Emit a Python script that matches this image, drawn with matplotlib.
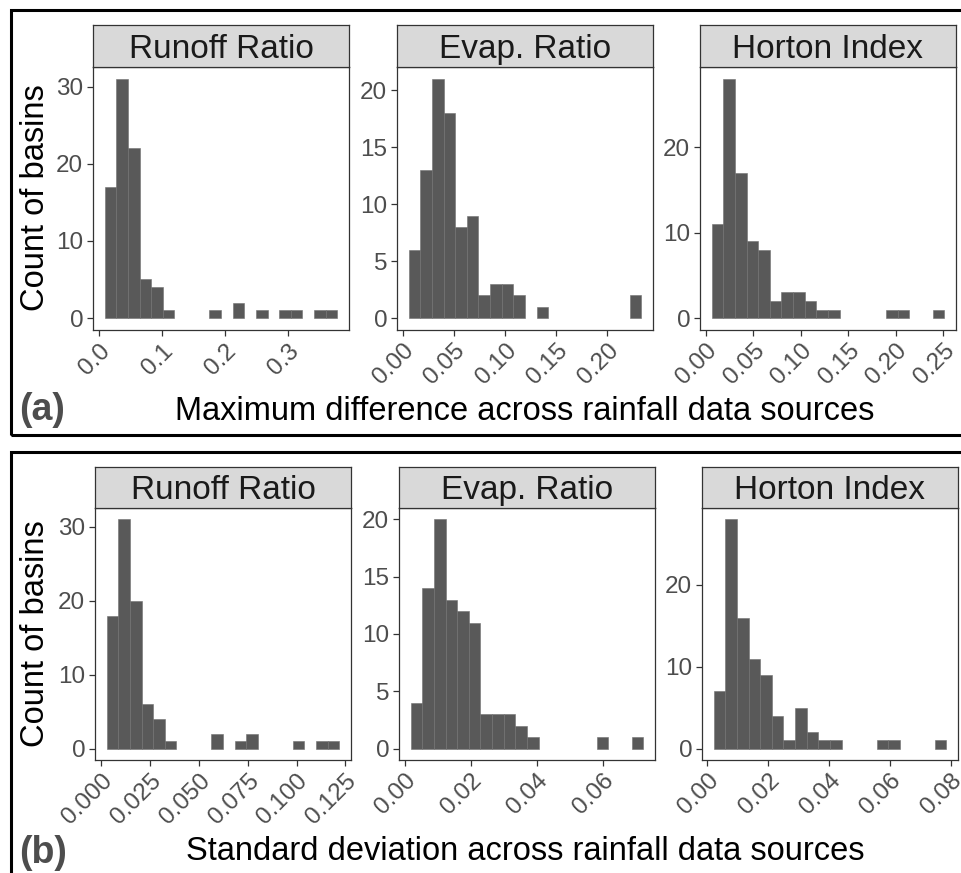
import numpy as np
import matplotlib
matplotlib.use("Agg")
import matplotlib.pyplot as plt
from matplotlib.patches import Rectangle

plt.rcParams['font.family'] = ['Liberation Sans', 'DejaVu Sans']

# facet titles
metrics = ['Runoff Ratio', 'Evap. Ratio', 'Horton Index']

# (a) maximum difference across rainfall sources: 20-bin histogram counts
maxdiff_counts = [
    [17, 31, 22, 5, 4, 1, 0, 0, 0, 1, 0, 2, 0, 1, 0, 1, 1, 0, 1, 1],
    [6, 13, 21, 18, 8, 9, 2, 3, 3, 2, 0, 1, 0, 0, 0, 0, 0, 0, 0, 2],
    [11, 28, 17, 9, 8, 2, 3, 3, 2, 1, 1, 0, 0, 0, 0, 1, 1, 0, 0, 1],
]
# outer bin edges (min, max) of each histogram
maxdiff_range = [(0.0095, 0.379), (0.0058, 0.2331), (0.0063, 0.2514)]
maxdiff_xticks = [
    [0.0, 0.1, 0.2, 0.3],
    [0.00, 0.05, 0.10, 0.15, 0.20],
    [0.00, 0.05, 0.10, 0.15, 0.20, 0.25],
]
maxdiff_xlabels = [
    ['0.0', '0.1', '0.2', '0.3'],
    ['0.00', '0.05', '0.10', '0.15', '0.20'],
    ['0.00', '0.05', '0.10', '0.15', '0.20', '0.25'],
]
maxdiff_yticks = [[0, 10, 20, 30], [0, 5, 10, 15, 20], [0, 10, 20]]

# (b) standard deviation across rainfall sources
sd_counts = [
    [18, 31, 20, 6, 4, 1, 0, 0, 0, 2, 0, 1, 2, 0, 0, 0, 1, 0, 1, 1],
    [4, 14, 20, 13, 12, 11, 3, 3, 3, 2, 1, 0, 0, 0, 0, 0, 1, 0, 0, 1],
    [7, 28, 16, 11, 9, 4, 1, 5, 2, 1, 1, 0, 0, 0, 1, 1, 0, 0, 0, 1],
]
sd_range = [(0.0029, 0.1219), (0.0018, 0.0723), (0.0021, 0.0785)]
sd_xticks = [
    [0.000, 0.025, 0.050, 0.075, 0.100, 0.125],
    [0.00, 0.02, 0.04, 0.06],
    [0.00, 0.02, 0.04, 0.06, 0.08],
]
sd_xlabels = [
    ['0.000', '0.025', '0.050', '0.075', '0.100', '0.125'],
    ['0.00', '0.02', '0.04', '0.06'],
    ['0.00', '0.02', '0.04', '0.06', '0.08'],
]
sd_yticks = [[0, 10, 20, 30], [0, 5, 10, 15, 20], [0, 10, 20]]

W, H = 961, 873
fig = plt.figure(figsize=(W / 100, H / 100), dpi=100)


def px_axes(x0, y0, x1, y1):
    return fig.add_axes([x0 / W, 1 - y1 / H, (x1 - x0) / W, (y1 - y0) / H])


def draw_row(counts, ranges, xticks, xlabels, yticks, lefts, strip_top, panel_top, panel_bot):
    for i in range(3):
        x0 = lefts[i]
        x1 = x0 + 256
        ax = px_axes(x0, panel_top, x1, panel_bot)
        c = np.array(counts[i])
        edges = np.linspace(ranges[i][0], ranges[i][1], len(c) + 1)
        keep = c > 0
        ax.bar(edges[:-1][keep], c[keep], width=np.diff(edges)[keep], align='edge',
               color='#595959', edgecolor='#707070', linewidth=0.4)
        span = edges[-1] - edges[0]
        ax.set_xlim(edges[0] - 0.05 * span, edges[-1] + 0.05 * span)
        ax.set_ylim(-0.05 * c.max(), 1.05 * c.max())
        ax.set_xticks(xticks[i])
        ax.set_xticklabels(xlabels[i], rotation=45, ha='right', va='top',
                           rotation_mode='anchor')
        ax.set_yticks(yticks[i])
        ax.tick_params(colors='#333333', labelcolor='#4d4d4d', labelsize=17.5,
                       length=4, width=0.9, pad=3)
        for s in ax.spines.values():
            s.set_color('#333333')
            s.set_linewidth(0.9)

        st = px_axes(x0, strip_top, x1, panel_top)
        st.set_facecolor('#d9d9d9')
        st.set_xticks([])
        st.set_yticks([])
        for s in st.spines.values():
            s.set_color('#333333')
            s.set_linewidth(0.9)
        st.text(0.5, 0.42, metrics[i], ha='center', va='center', fontsize=24,
                color='#1a1a1a', transform=st.transAxes)


draw_row(maxdiff_counts, maxdiff_range, maxdiff_xticks, maxdiff_xlabels, maxdiff_yticks,
         [93, 397, 700], 25, 67, 330)
draw_row(sd_counts, sd_range, sd_xticks, sd_xlabels, sd_yticks,
         [95, 399, 702], 467, 508, 760)

# y-axis titles, x-axis titles and panel letters
fig.text(36 / W, 1 - 198 / H, 'Count of basins', rotation=90, ha='center', va='center',
         fontsize=23.5)
fig.text(36 / W, 1 - 634 / H, 'Count of basins', rotation=90, ha='center', va='center',
         fontsize=23.5)
fig.text(525 / W, 1 - 412 / H, 'Maximum difference across rainfall data sources',
         ha='center', va='center', fontsize=23.5)
fig.text(525 / W, 1 - 852 / H, 'Standard deviation across rainfall data sources',
         ha='center', va='center', fontsize=23.5)
fig.text(19 / W, 1 - 410 / H, '(a)', ha='left', va='center', fontsize=27,
         fontweight='bold', color='#4d4d4d')
fig.text(19 / W, 1 - 853 / H, '(b)', ha='left', va='center', fontsize=27,
         fontweight='bold', color='#4d4d4d')

# black frames around the two figure parts
fig.add_artist(Rectangle((11 / W, 1 - 435 / H), 980 / W, 425 / H, transform=fig.transFigure,
                         fill=False, edgecolor='black', linewidth=2.2))
fig.add_artist(Rectangle((11 / W, 1 - 900 / H), 980 / W, 448 / H, transform=fig.transFigure,
                         fill=False, edgecolor='black', linewidth=2.2))

fig.savefig('out.png', dpi=100)
